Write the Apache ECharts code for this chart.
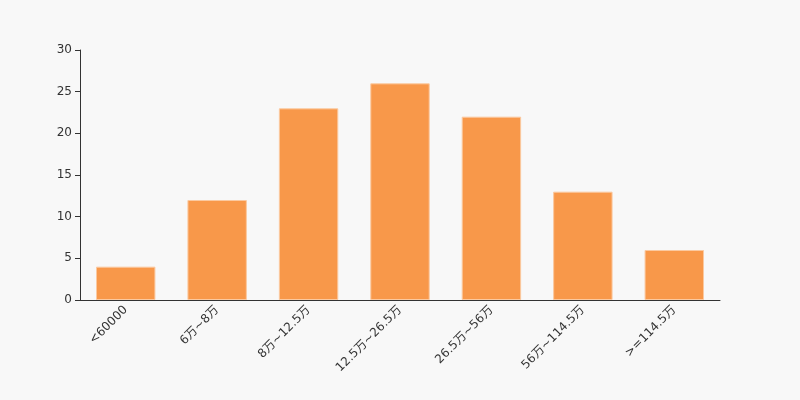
<!DOCTYPE html>
<html><head><meta charset="utf-8">
<script src="https://cdn.jsdelivr.net/npm/echarts@6/dist/echarts.min.js"></script>
<style>html,body{margin:0;padding:0;background:#f8f8f8;}#c{width:800px;height:400px;}</style>
</head><body><div id="c"></div>
<script>
const categories = ['<60000','6万~8万','8万~12.5万','12.5万~26.5万','26.5万~56万','56万~114.5万','>=114.5万'];
const values = [4, 12, 23, 26, 22, 13, 6];
const yTicks = {min: 0, max: 30, interval: 5};

const chart = echarts.init(document.getElementById('c'), null, {renderer: 'canvas'});
chart.setOption({
  backgroundColor: '#f8f8f8',
  animation: false,
  grid: {left: 80, right: 80, top: 50, bottom: 100},
  xAxis: {
    type: 'category',
    data: categories,
    axisLine: {lineStyle: {color: '#333'}},
    axisTick: {lineStyle: {color: '#333'}},
    axisLabel: {rotate: 45, color: '#333', fontSize: 12, fontFamily: 'DejaVu Sans, Noto Sans CJK SC', margin: 8}
  },
  yAxis: {
    type: 'value',
    min: yTicks.min, max: yTicks.max, interval: yTicks.interval,
    axisLine: {show: true, lineStyle: {color: '#333'}},
    axisTick: {show: true, lineStyle: {color: '#333'}},
    splitLine: {show: false},
    axisLabel: {color: '#333', fontSize: 12, fontFamily: 'DejaVu Sans'}
  },
  series: [{
    type: 'bar',
    data: values,
    barWidth: '65%',
    itemStyle: {color: '#f8984a', borderColor: '#fbc9a0', borderWidth: 1}
  }]
});
</script></body></html>
